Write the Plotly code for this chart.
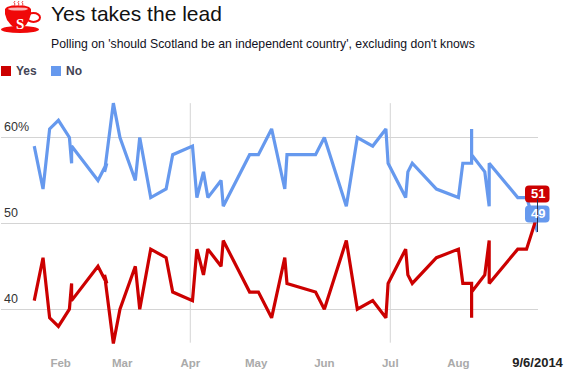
import plotly.graph_objects as go

dates = ["2014-01-20","2014-01-24","2014-01-27","2014-01-31","2014-02-05","2014-02-06","2014-02-06",
         "2014-02-18","2014-02-22","2014-02-21","2014-02-25","2014-02-28","2014-03-07","2014-03-09",
         "2014-03-14","2014-03-21","2014-03-24","2014-04-02","2014-04-04","2014-04-07","2014-04-09",
         "2014-04-15","2014-04-16","2014-04-28","2014-05-02","2014-05-08","2014-05-14","2014-05-15",
         "2014-05-28","2014-06-01","2014-06-11","2014-06-16","2014-06-23","2014-06-29","2014-06-30",
         "2014-07-08","2014-07-09","2014-07-11","2014-07-22","2014-08-01","2014-08-03","2014-08-07",
         "2014-08-07","2014-08-07","2014-08-13","2014-08-15","2014-08-15","2014-08-28","2014-09-01",
         "2014-09-06"]
yes = [41,46,39,38,40,43,41,45,43,44,36,40,45,40,47,46,42,41,47,44,47,45,48,42,42,39,46,43,42,40,48,40,
       41,39,43,47,44,43,46,47,43,43,39,42,44,48,43,47,47,51]
no = [59,54,61,62,60,57,59,55,57,56,64,60,55,60,53,54,58,59,53,56,53,55,52,58,58,61,54,58,58,60,52,60,
      59,61,57,53,56,57,54,53,57,57,61,58,56,52,57,53,53,49]
tick_dates = ["2014-02-01","2014-03-01","2014-04-01","2014-05-01","2014-06-01","2014-07-01","2014-08-01","2014-09-06"]
tick_text = ["Feb","Mar","Apr","May","Jun","Jul","Aug",'<span style="color:#222;font-size:13px">9/6/2014</span>']
y_ticks = [40,50,60]
y_text = ["40","50","60%"]
grid_months = ["2014-04-01","2014-07-01"]
RED, BLUE, GRID = "#cc0000", "#6699ee", "#d4d4d4"
CUP = "#f00808"
FONT = "Liberation Sans"
W, H, L, R, T, B = 567, 378, 1, 29, 95, 28

def px(x): return (x-L)/(W-L-R)
def py(y): return 1-(y-T)/(H-T-B)
def rrect(x0,y0,x1,y1,r):
    a,b,c,d = px(x0),py(y0),px(x1),py(y1)
    rx,ry = r/(W-L-R), r/(H-T-B)
    return (f"M{a+rx},{b} L{c-rx},{b} Q{c},{b} {c},{b-ry} L{c},{d+ry} Q{c},{d} {c-rx},{d} "
            f"L{a+rx},{d} Q{a},{d} {a},{d+ry} L{a},{b-ry} Q{a},{b} {a+rx},{b} Z")
def poly(pts, close=True):
    s = "M"+" L".join(f"{px(x)},{py(y)}" for x,y in pts)
    return s+(" Z" if close else "")
def ell(cx,cy,rx,ry):
    a,b = rx/(W-L-R), ry/(H-T-B)
    x,y = px(cx),py(cy)
    return dict(type="circle",xref="paper",yref="paper",x0=x-a,x1=x+a,y0=y-b,y1=y+b)

fig = go.Figure()
fig.add_trace(go.Scatter(x=dates,y=no,mode="lines",name="No",line=dict(color=BLUE,width=3.2,shape="linear"),showlegend=False))
fig.add_trace(go.Scatter(x=dates,y=yes,mode="lines",name="Yes",line=dict(color=RED,width=3.2,shape="linear"),showlegend=False))

shapes = []
for m in grid_months:
    shapes.append(dict(type="line",xref="x",yref="y",x0=m,x1=m,y0=36.1,y1=64,line=dict(color=GRID,width=1),layer="below"))
# legend swatches
for x0,c in ((1,RED),(51,BLUE)):
    shapes.append(dict(type="rect",xref="paper",yref="paper",x0=px(x0),x1=px(x0+10),y0=py(76),y1=py(66),fillcolor=c,line_width=0))
# value bubbles
shapes.append(dict(type="path",xref="paper",yref="paper",path=rrect(525,185.5,549.5,202.5,4),fillcolor=RED,line_width=0))
shapes.append(dict(type="path",xref="paper",yref="paper",path=rrect(525,205.5,549.5,222.5,4),fillcolor=BLUE,line_width=0))
shapes.append(dict(type="line",xref="paper",yref="paper",x0=px(537.5),x1=px(537.5),y0=py(199),y1=py(232),line=dict(color="#223355",width=1)))
# teacup logo
shapes.append(dict(ell(20,29.5,19,3.5),fillcolor=CUP,line_width=0))
shapes.append(dict(ell(33.5,17.5,6.5,4.5),fillcolor="rgba(0,0,0,0)",line=dict(color=CUP,width=2)))
shapes.append(dict(type="path",xref="paper",yref="paper",fillcolor=CUP,line_width=0,
                   path=poly([(5,9),(7,7),(12,5.5),(24,5.5),(29,7),(31,9),(31,14),(29,20),(26,25),(22,28),(15,28),(11,25),(7,20),(5,14)])))
shapes.append(dict(ell(18,9,10,1.6),fillcolor="#ffffff",line_width=0,opacity=0.7))
for sx in (14,18,22):
    shapes.append(dict(type="path",xref="paper",yref="paper",line=dict(color="#ee4040",width=1),fillcolor="rgba(0,0,0,0)",
                       path=poly([(sx,6),(sx+1,4),(sx,2.5),(sx+1,1)],close=False)))

lab = dict(xref="paper",yref="paper",showarrow=False,xanchor="left",yanchor="middle")
ann = [
    dict(lab,x=px(49),y=py(13),text="Yes takes the lead",font=dict(family=FONT,size=21,color="#111111")),
    dict(lab,x=px(49),y=py(44),text="Polling on 'should Scotland be an independent country', excluding don't knows",font=dict(family=FONT,size=12.25,color="#111122")),
    dict(lab,x=px(14),y=py(71),text="<b>Yes</b>",font=dict(family=FONT,size=12,color="#444455")),
    dict(lab,x=px(64),y=py(71),text="<b>No</b>",font=dict(family=FONT,size=12,color="#444455")),
    dict(xref="paper",yref="paper",showarrow=False,xanchor="center",yanchor="middle",x=px(20),y=py(23.5),text="<b>S</b>",font=dict(family="Liberation Serif",size=15,color="#ffffff")),
    dict(xref="x",yref="y",x=dates[-1],y=yes[-1],showarrow=False,yshift=21,text="<b>%d</b>"%yes[-1],font=dict(family=FONT,size=13,color="#ffffff")),
    dict(xref="x",yref="y",x=dates[-1],y=no[-1],showarrow=False,yshift=18,text="<b>%d</b>"%no[-1],font=dict(family=FONT,size=13,color="#ffffff")),
]
fig.update_layout(
    width=W,height=H,margin=dict(l=L,r=R,t=T,b=B),paper_bgcolor="#ffffff",plot_bgcolor="#ffffff",
    showlegend=False,shapes=shapes,annotations=ann,font=dict(family=FONT),
    xaxis=dict(range=["2014-01-04 21:00","2014-09-06 05:00"],tickmode="array",tickvals=tick_dates,ticktext=tick_text,
               showgrid=False,zeroline=False,showline=False,ticks="",ticklabelstandoff=4,
               tickfont=dict(family=FONT,size=11.5,color="#aaaaaa",weight="bold")),
    yaxis=dict(range=[35.25,64.95],tickmode="array",tickvals=y_ticks,ticktext=y_text,showgrid=True,gridcolor=GRID,gridwidth=1,
               zeroline=False,showline=False,ticks="",ticklabelposition="inside",ticklabelshift=-11,
               tickfont=dict(family=FONT,size=12.5,color="#333333")),
)
fig.write_html("out.html",config={"displayModeBar":False},post_script="document.body.style.margin='0';document.documentElement.style.overflow='hidden';window.dispatchEvent(new Event('resize'));")
